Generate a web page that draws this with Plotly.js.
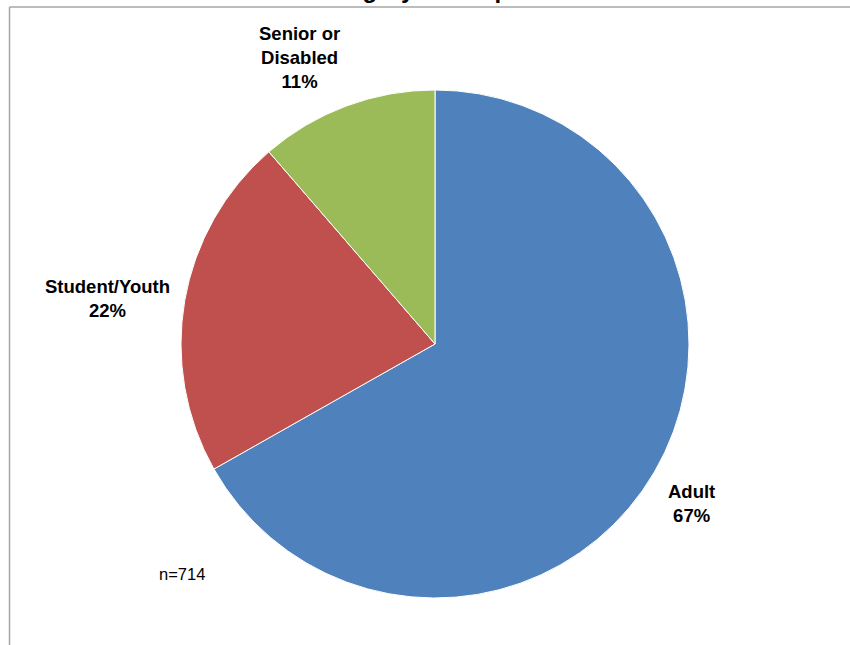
<!DOCTYPE html>
<html>
<head>
<meta charset="utf-8">
<script src="https://cdn.plot.ly/plotly-3.0.1.min.js"></script>
<style>
  html, body { margin: 0; padding: 0; background: #ffffff; }
  #chart { width: 850px; height: 645px; }
</style>
</head>
<body>
<div id="chart"></div>
<script>
// ---- data ----
const categories = ["Adult", "Student/Youth", "Senior or<br>Disabled"];
const counts = [477, 156, 81];
const colors = ["#4F81BD", "#C0504D", "#9BBB59"];
const chartTitle = "Fare Category of Respondents";
const sampleNote = "n=714";

const FONT = "Arial, 'Liberation Sans', sans-serif";
const W = 850, H = 645;
const dom = { x: [0.21294, 0.81059], y: [0.07287, 0.86047] };

const trace = {
  type: "pie",
  labels: categories,
  values: counts,
  sort: false,
  direction: "clockwise",
  rotation: 0,
  marker: { colors: colors, line: { color: "#ffffff", width: 1 } },
  textinfo: "none",
  hoverinfo: "label+percent",
  showlegend: false,
  automargin: false,
  domain: dom
};

// Data labels placed at each slice's mid-angle, just outside the pie (derived from values)
const total = counts.reduce((a, b) => a + b, 0);
const cx = (dom.x[0] + dom.x[1]) / 2 * W;
const cyUp = (dom.y[0] + dom.y[1]) / 2 * H;
const R = Math.min((dom.x[1] - dom.x[0]) * W, (dom.y[1] - dom.y[0]) * H) / 2;
const GAP = 13;
let cum = 0;
const labelAnns = counts.map((v, i) => {
  const mid = (cum + v / 2) / total * 2 * Math.PI;
  cum += v;
  const s = Math.sin(mid), c = Math.cos(mid);
  const px = cx + (R + GAP) * s;
  const py = cyUp + (R + GAP) * c;
  const pct = Math.round(v / total * 100);
  return {
    text: "<b>" + categories[i] + "<br>" + pct + "%</b>",
    xref: "paper", yref: "paper",
    x: px / W, y: py / H,
    xanchor: Math.abs(s) < 0.2 ? "center" : (s > 0 ? "left" : "right"),
    yanchor: Math.abs(c) < 0.5 ? "middle" : (c > 0 ? "bottom" : "top"),
    align: "center",
    showarrow: false,
    font: { family: FONT, size: 18.5, color: "#000000" }
  };
});

const layout = {
  width: W,
  height: H,
  margin: { l: 0, r: 0, t: 0, b: 0 },
  paper_bgcolor: "#ffffff",
  plot_bgcolor: "#ffffff",
  showlegend: false,
  font: { family: FONT, color: "#000000" },
  shapes: [
    { type: "line", xref: "paper", yref: "paper", x0: 0.0112, x1: 1.01, y0: 0.9891, y1: 0.9891,
      line: { color: "#A6A6A6", width: 1.5 } },
    { type: "line", xref: "paper", yref: "paper", x0: 0.0112, x1: 0.0112, y0: -0.01, y1: 0.9891,
      line: { color: "#A6A6A6", width: 1.5 } }
  ],
  annotations: [
    { text: "<b>" + chartTitle + "</b>", xref: "paper", yref: "paper", x: 0.503, y: 1.016,
      xanchor: "center", yanchor: "middle", showarrow: false,
      font: { family: FONT, size: 24, color: "#000000" } },
    { text: sampleNote, xref: "paper", yref: "paper", x: 0.2141, y: 0.1101,
      xanchor: "center", yanchor: "middle", showarrow: false,
      font: { family: FONT, size: 16.5, color: "#000000" } }
  ].concat(labelAnns)
};

Plotly.newPlot("chart", [trace], layout, { displayModeBar: false, staticPlot: true });
</script>
</body>
</html>
